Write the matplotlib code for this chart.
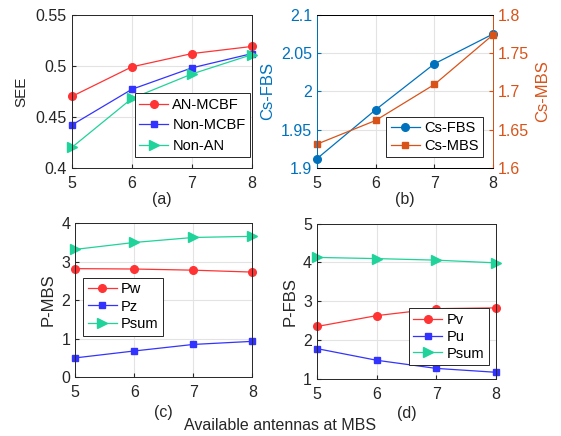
import matplotlib.pyplot as plt

plt.rcParams['font.family'] = ['Liberation Sans', 'DejaVu Sans']
plt.rcParams['font.size'] = 11.5

antennas = [5, 6, 7, 8]

# (a) secrecy energy efficiency
see_an_mcbf = [0.470, 0.499, 0.512, 0.519]
see_non_mcbf = [0.442, 0.477, 0.498, 0.512]
see_non_an = [0.420, 0.468, 0.492, 0.511]

# (b) secrecy capacity
cs_fbs = [1.912, 1.976, 2.036, 2.075]
cs_mbs = [1.631, 1.662, 1.709, 1.774]

# (c) MBS power
pw = [2.82, 2.81, 2.78, 2.73]
pz = [0.50, 0.68, 0.85, 0.93]
psum_mbs = [3.32, 3.50, 3.63, 3.66]

# (d) FBS power
pv = [2.35, 2.63, 2.81, 2.83]
pu = [1.78, 1.48, 1.27, 1.17]
psum_fbs = [4.13, 4.10, 4.06, 3.99]

RED = '#ff3333'
BLUE = '#3333ff'
GREEN = '#1fd39a'
MBLUE = '#0072bd'
MORANGE = '#d95319'
EDGE = '#262626'


def style(ax):
    ax.grid(True, color='#e3e3e3', linewidth=0.8)
    ax.set_axisbelow(True)
    ax.tick_params(direction='in', length=3, colors=EDGE, labelcolor=EDGE)
    ax.tick_params(axis='x', pad=6)
    for s in ax.spines.values():
        s.set_color(EDGE)
        s.set_linewidth(0.7)
    ax.set_xlim(5, 8)
    ax.set_xticks(antennas)


def legend(ax, loc, anchor, spacing=0.2, handles=None):
    leg = ax.legend(handles=handles, loc=loc, bbox_to_anchor=anchor, fancybox=False,
                    edgecolor=EDGE, framealpha=1, handlelength=2.0, fontsize=10.5,
                    borderpad=0.3, labelspacing=spacing, handletextpad=0.3,
                    borderaxespad=0)
    leg.get_frame().set_linewidth(0.7)


def lines(ax, ys, styles, labels):
    for y, (mk, c, ms), lab in zip(ys, styles, labels):
        ax.plot(antennas, y, '-' + mk, color=c, ms=ms, lw=0.9, label=lab, clip_on=False)


three = [('o', RED, 5.5), ('s', BLUE, 5), ('>', GREEN, 6.5)]

fig = plt.figure(figsize=(5.61, 4.36), dpi=100)

# (a)
ax = fig.add_axes([0.128, 0.615, 0.321, 0.351])
lines(ax, [see_an_mcbf, see_non_mcbf, see_non_an], three, ['AN-MCBF', 'Non-MCBF', 'Non-AN'])
ax.set_ylim(0.4, 0.55)
ax.set_yticks([0.4, 0.45, 0.5, 0.55])
ax.set_yticklabels(['0.4', '0.45', '0.5', '0.55'])
ax.set_ylabel('SEE', color=EDGE, fontsize=11, labelpad=5)
style(ax)
legend(ax, 'lower right', (0.99, 0.07), spacing=0.45)
ax.text(0.5, -0.21, '(a)', transform=ax.transAxes, ha='center', va='center', color=EDGE)

# (b)
ax = fig.add_axes([0.565, 0.615, 0.314, 0.351])
ax2 = ax.twinx()
l1, = ax.plot(antennas, cs_fbs, '-o', color=MBLUE, ms=5.5, lw=0.9, label='Cs-FBS', clip_on=False)
l2, = ax2.plot(antennas, cs_mbs, '-s', color=MORANGE, ms=5, lw=0.9, label='Cs-MBS', clip_on=False)
ax.set_ylim(1.9, 2.1)
ax.set_yticks([1.9, 1.95, 2.0, 2.05, 2.1])
ax.set_yticklabels(['1.9', '1.95', '2', '2.05', '2.1'])
ax2.set_ylim(1.6, 1.8)
ax2.set_yticks([1.6, 1.65, 1.7, 1.75, 1.8])
ax2.set_yticklabels(['1.6', '1.65', '1.7', '1.75', '1.8'])
style(ax)
ax2.tick_params(direction='in', length=3)
for s in ax2.spines.values():
    s.set_linewidth(0.7)
ax2.spines['left'].set_color(MBLUE)
ax2.spines['right'].set_color(MORANGE)
ax.tick_params(axis='y', colors=MBLUE, labelcolor=MBLUE)
ax2.tick_params(axis='y', colors=MORANGE, labelcolor=MORANGE)
ax.set_ylabel('Cs-FBS', color=MBLUE, fontsize=12)
ax2.set_ylabel('Cs-MBS', color=MORANGE, fontsize=12)
legend(ax2, 'lower right', (0.943, 0.07), spacing=0.25, handles=[l1, l2])
ax.text(0.5, -0.21, '(b)', transform=ax.transAxes, ha='center', va='center', color=EDGE)

# (c)
ax = fig.add_axes([0.134, 0.135, 0.316, 0.353])
lines(ax, [pw, pz, psum_mbs], three, ['Pw', 'Pz', 'Psum'])
ax.set_ylim(0, 4)
ax.set_yticks([0, 1, 2, 3, 4])
ax.set_ylabel('P-MBS', color=EDGE, fontsize=12)
style(ax)
legend(ax, 'lower left', (0.045, 0.27), spacing=0.25)
ax.text(0.5, -0.23, '(c)', transform=ax.transAxes, ha='center', va='center', color=EDGE)

# (d)
ax = fig.add_axes([0.565, 0.131, 0.319, 0.356])
lines(ax, [pv, pu, psum_fbs], three, ['Pv', 'Pu', 'Psum'])
ax.set_ylim(1, 5)
ax.set_yticks([1, 2, 3, 4, 5])
ax.set_ylabel('P-FBS', color=EDGE, fontsize=12)
style(ax)
legend(ax, 'lower right', (0.96, 0.09), spacing=0.2)
ax.text(0.5, -0.22, '(d)', transform=ax.transAxes, ha='center', va='center', color=EDGE)

fig.text(0.5, 0.025, 'Available antennas at MBS', ha='center', va='center', color=EDGE)

fig.savefig('out.png', dpi=100)
